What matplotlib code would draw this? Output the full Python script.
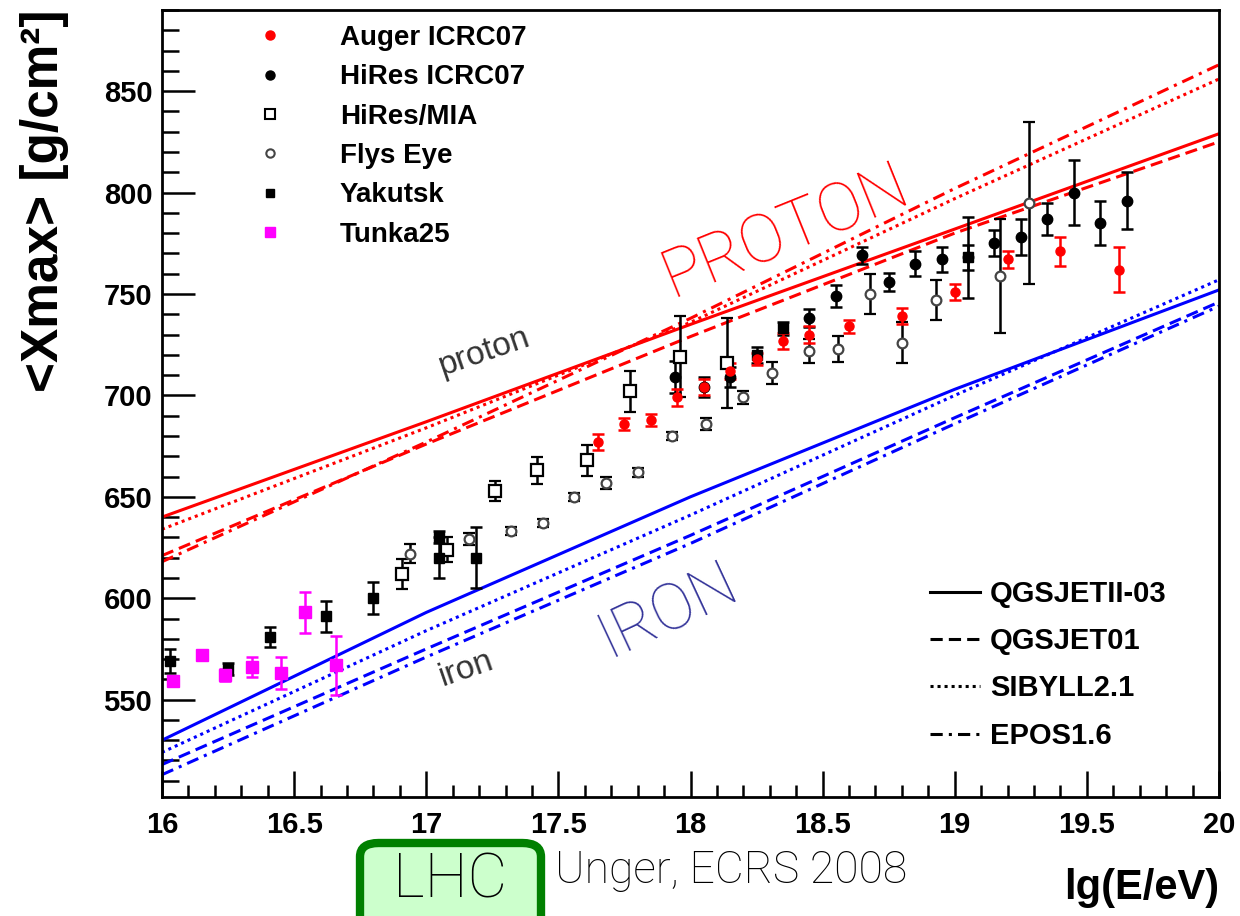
import matplotlib
matplotlib.use("Agg")
import matplotlib.pyplot as plt
from matplotlib.lines import Line2D
from matplotlib.patches import FancyBboxPatch
from matplotlib.ticker import MultipleLocator, FormatStrFormatter

### Model predictions of <Xmax> vs energy
lgE_model = [16, 17, 18, 19, 20]
p_qgsjet2 = [640, 687, 735, 782, 829]
p_qgsjet01 = [621, 676, 729, 780, 825]
p_sibyll = [634, 684, 736, 797, 856]
p_epos = [618, 677, 738, 802, 863]
fe_qgsjet2 = [530, 593, 650, 703, 752]
fe_qgsjet01 = [518, 575, 631, 689, 746]
fe_sibyll = [524, 584, 641, 700, 757]
fe_epos = [513, 571, 627, 686, 744]

### Measurements
auger_lgE = [17.65, 17.75, 17.85, 17.95, 18.05, 18.15, 18.25, 18.35, 18.45, 18.6, 18.8, 19.0, 19.2, 19.4, 19.62]
auger_xmax = [677, 686, 688, 699, 704, 712, 718, 727, 730, 734, 739, 751, 767, 771, 762]
auger_err = [4, 3, 3, 4, 4, 4, 3, 4, 4, 3, 4, 4, 4, 7, 11]

hires_lgE = [17.94, 18.05, 18.15, 18.45, 18.55, 18.65, 18.75, 18.85, 18.95, 19.05, 19.15, 19.25, 19.35, 19.45, 19.55, 19.65]
hires_xmax = [709, 704, 709, 738, 749, 769, 756, 765, 767, 768, 775, 778, 787, 800, 785, 796]
hires_err = [8, 5, 5, 4.5, 5.5, 4, 4.5, 6, 6, 6, 6.5, 9, 8, 16, 11, 14]

mia_lgE = [16.91, 17.08, 17.26, 17.42, 17.61, 17.77, 17.96, 18.14]
mia_xmax = [612, 624, 653, 663, 668, 702, 719, 716]
mia_err = [7.5, 6, 5, 6.5, 7.5, 10, 20, 22]

fly_lgE = [16.94, 17.16, 17.32, 17.44, 17.56, 17.68, 17.80, 17.93, 18.06, 18.20, 18.31, 18.45, 18.56, 18.68, 18.80, 18.93, 19.17, 19.28]
fly_xmax = [622, 629, 633, 637, 650, 657, 662, 680, 686, 699, 711, 722, 723, 750, 726, 747, 759, 795]
fly_err = [4.5, 3, 2, 2, 2, 3, 2, 2, 3, 3, 5.5, 6, 6.5, 10, 10, 10, 28, 40]

yakutsk_lgE = [16.03, 16.25, 16.41, 16.62, 16.80, 17.05, 17.05, 17.19, 18.25, 18.35, 19.05]
yakutsk_xmax = [569, 565, 581, 591, 600, 630, 620, 620, 720, 733, 768]
yakutsk_err = [6, 3, 5, 7.5, 8, 3, 10, 15, 4, 3, 20]

tunka_lgE = [16.04, 16.15, 16.24, 16.34, 16.45, 16.54, 16.66]
tunka_xmax = [559, 572, 562, 566, 563, 593, 567]
tunka_err = [0, 0, 3, 5, 8, 10, 14.6]

### Styles
plt.rcParams['font.family'] = ['Liberation Sans', 'DejaVu Sans']
plt.rcParams['font.weight'] = 'bold'
plt.rcParams['axes.labelweight'] = 'bold'
hand = ['Roboto', 'DejaVu Sans']
lw_model = 2.2
styles = {
	"QGSJETII-03": '-',
	"QGSJET01": (0, (4, 2)),
	"SIBYLL2.1": (0, (1, 1.3)),
	"EPOS1.6": (0, (4, 2, 1, 2)),
}

fig = plt.figure(figsize=(12.4, 9.16), dpi=100)
ax = fig.add_axes([162/1240., 119/916., 1057/1240., 787/916.])

# proton and iron lines
for name, p, fe in [("QGSJETII-03", p_qgsjet2, fe_qgsjet2), ("QGSJET01", p_qgsjet01, fe_qgsjet01),
		("SIBYLL2.1", p_sibyll, fe_sibyll), ("EPOS1.6", p_epos, fe_epos)]:
	ax.plot(lgE_model, p, color='#ff0000', lw=lw_model, ls=styles[name], zorder=2)
	ax.plot(lgE_model, fe, color='#0000ff', lw=lw_model, ls=styles[name], zorder=2)

# data points
eb = dict(elinewidth=1.8, capthick=1.8, capsize=4.5, ls='none', zorder=3)
ax.errorbar(mia_lgE, mia_xmax, yerr=mia_err, fmt='s', ms=8, mfc='white', mec='k', mew=1.6, color='k', **eb)
ax.errorbar(fly_lgE, fly_xmax, yerr=fly_err, fmt='o', ms=7, mfc='white', mec='#444444', mew=1.6, color='k', **eb)
ax.errorbar(yakutsk_lgE, yakutsk_xmax, yerr=yakutsk_err, fmt='s', ms=7, color='k', **eb)
ax.errorbar(hires_lgE, hires_xmax, yerr=hires_err, fmt='o', ms=7.5, color='k', **eb)
ax.errorbar(auger_lgE, auger_xmax, yerr=auger_err, fmt='o', ms=6.5, color='#ff0000', **eb)
ax.errorbar(tunka_lgE, tunka_xmax, yerr=tunka_err, fmt='s', ms=8, color='#ff00ff', **eb)

# axes
ax.set_xlim(16, 20)
ax.set_ylim(502, 890)
ax.xaxis.set_major_locator(MultipleLocator(0.5))
ax.xaxis.set_minor_locator(MultipleLocator(0.1))
ax.yaxis.set_major_locator(MultipleLocator(50))
ax.yaxis.set_minor_locator(MultipleLocator(10))
ax.xaxis.set_major_formatter(FormatStrFormatter('%g'))
ax.tick_params(which='both', direction='in', top=False, right=False, width=1.8, labelsize=21)
ax.tick_params(axis='x', which='major', length=19, pad=10)
ax.tick_params(axis='x', which='minor', length=9)
ax.tick_params(axis='y', which='major', length=24, pad=7)
ax.tick_params(axis='y', which='minor', length=12)
for s in ax.spines.values():
	s.set_linewidth(2)

fig.text(45/1240., 1 - 10/916., u"<Xmax> [g/cm\u00b2]", rotation=90, ha='center', va='top', fontsize=37)
ax.set_xlabel("lg(E/eV)", fontsize=30, fontweight='bold', loc='right')
ax.xaxis.set_label_coords(1.0, -0.09)

# legends
h_data = [
	Line2D([], [], ls='none', marker='o', ms=6.5, color='#ff0000'),
	Line2D([], [], ls='none', marker='o', ms=6.5, color='k'),
	Line2D([], [], ls='none', marker='s', ms=7.5, mfc='white', mec='k', mew=1.5),
	Line2D([], [], ls='none', marker='o', ms=6, mfc='white', mec='#444444', mew=1.5),
	Line2D([], [], ls='none', marker='s', ms=6, color='k'),
	Line2D([], [], ls='none', marker='s', ms=7, color='#ff00ff'),
]
l_data = ["Auger ICRC07", "HiRes ICRC07", "HiRes/MIA", "Flys Eye", "Yakutsk", "Tunka25"]
leg1 = ax.legend(h_data, l_data, loc='upper left', bbox_to_anchor=(242/1240., 1 - 25/916.),
	bbox_transform=fig.transFigure, frameon=False, fontsize=20, handlelength=2.0,
	handletextpad=1.52, labelspacing=0.48, borderpad=0, borderaxespad=0)
ax.add_artist(leg1)

h_mod = [Line2D([], [], color='k', lw=2.2, ls=styles[n]) for n in styles]
leg2 = ax.legend(h_mod, list(styles.keys()), loc='upper left', bbox_to_anchor=(930/1240., 1 - 580/916.),
	bbox_transform=fig.transFigure, frameon=False, fontsize=21, handlelength=1.71,
	handletextpad=0.34, labelspacing=0.66, borderpad=0, borderaxespad=0)

# annotations
ax.text(17.22, 721.6, "proton", rotation=19, color='#333333', fontsize=24, fontweight='normal',
	ha='center', va='center')
ax.text(17.15, 565, "iron", rotation=19, color='#333333', fontsize=24, fontweight='normal',
	ha='center', va='center')
ax.text(18.36, 780.6, "PROTON", rotation=22, color='#ff0000', fontsize=48, fontweight='light',
	family=hand, ha='center', va='center')
ax.text(17.915, 594, "IRON", rotation=25, color='#333399', fontsize=46, fontweight='light',
	family=hand, ha='center', va='center')

box = FancyBboxPatch((360/1240., -30/916.), 181/1240., 103/916., boxstyle="round,pad=0,rounding_size=0.015",
	transform=fig.transFigure, facecolor='#ccffcc', edgecolor='#008000', lw=6, clip_on=False)
fig.patches.append(box)
fig.text(450/1240., 1 - 880/916., "LHC", fontsize=44, fontweight='light', family=hand,
	ha='center', va='center')
fig.text(555/1240., 1 - 883/916., "Unger, ECRS 2008", fontsize=32, fontweight='light', family=hand,
	ha='left', va='baseline')

fig.savefig("out.png", dpi=100)
